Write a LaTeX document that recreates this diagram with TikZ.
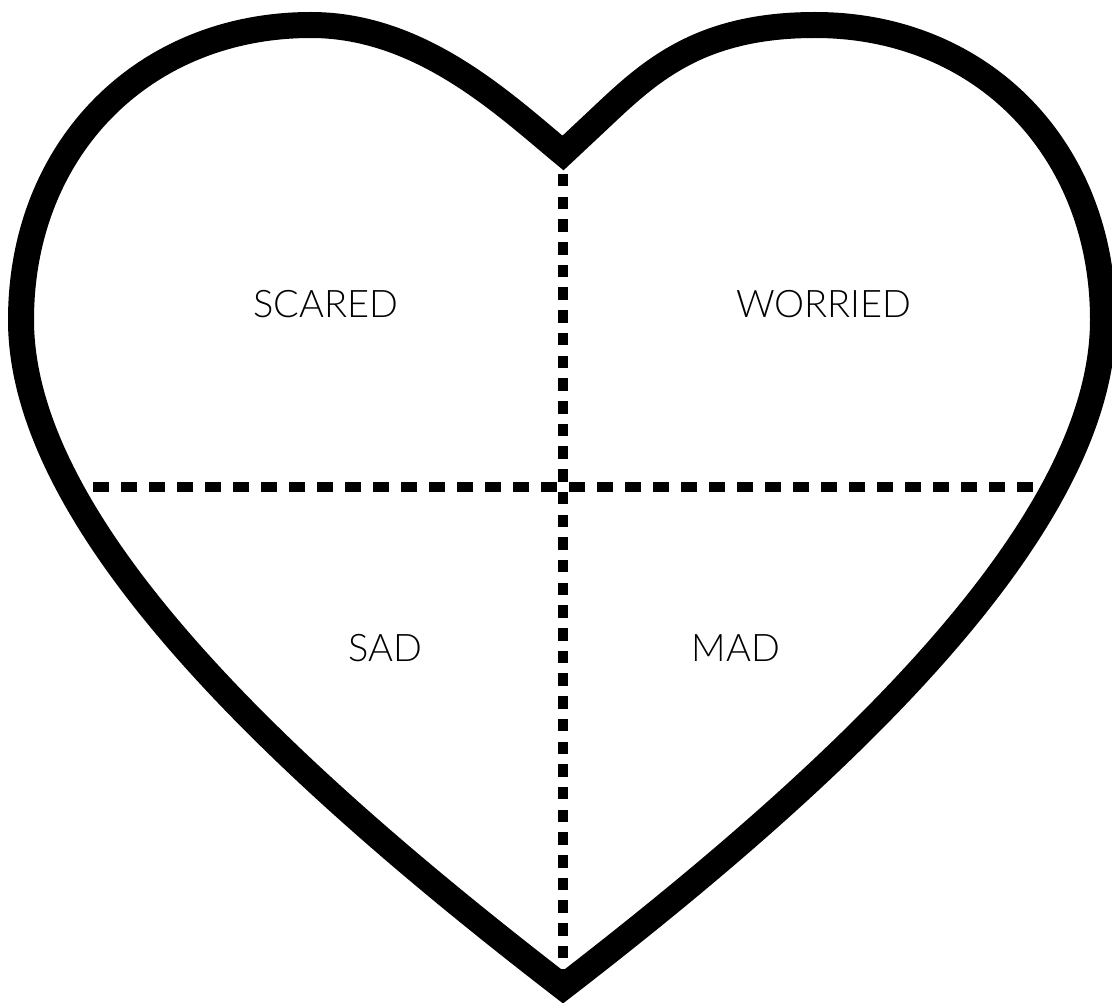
\documentclass[tikz,border=0pt]{standalone}
\usepackage{fontspec}
\IfFontExistsTF{Lato Light}{\setmainfont{Lato Light}}{\setmainfont{Lato}}
\usetikzlibrary{positioning}

\begin{document}
\begin{tikzpicture}[
    x=1pt, y=-1pt,
    every node/.style={font=\fontsize{38}{44}\selectfont, inner sep=0pt},
    outline/.style={draw=black, line width=26pt, line join=miter, miter limit=10},
    splitv/.style={draw=black, line width=10pt, dash pattern=on 12.5pt off 10.2pt},
    splith/.style={draw=black, line width=10.5pt, dash pattern=on 16pt off 12pt}
]
\useasboundingbox (0,0) rectangle (1112,1003);

% Points
\coordinate (cusp) at (563,153);
\coordinate (tip) at (563,987);
\coordinate (vtop) at (563,174);
\coordinate (vbot) at (563,985);
\coordinate (hleft) at (93,487);
\coordinate (hright) at (1034,487);

% Heart
\draw[outline]
    (cusp) .. controls (505,105) and (421,25) .. (311,25)
    .. controls (143,25) and (21,149) .. (21,320)
    .. controls (21,530) and (292,778) .. (tip)
    .. controls (834,778) and (1103,530) .. (1103,320)
    .. controls (1103,149) and (982,25) .. (815,25)
    .. controls (695,25) and (646,75) .. (595,123)
    -- cycle;

% Dividers
\draw[splitv] (vtop) -- (vbot);
\draw[splith] (hleft) -- (hright);

% Nodes
\node (scared)  at (326,304) {SCARED};
\node (worried) at (824,304) {WORRIED};
\node (sad)     at (385,648) {SAD};
\node (mad)     at (736,648) {MAD};

\end{tikzpicture}
\end{document}
